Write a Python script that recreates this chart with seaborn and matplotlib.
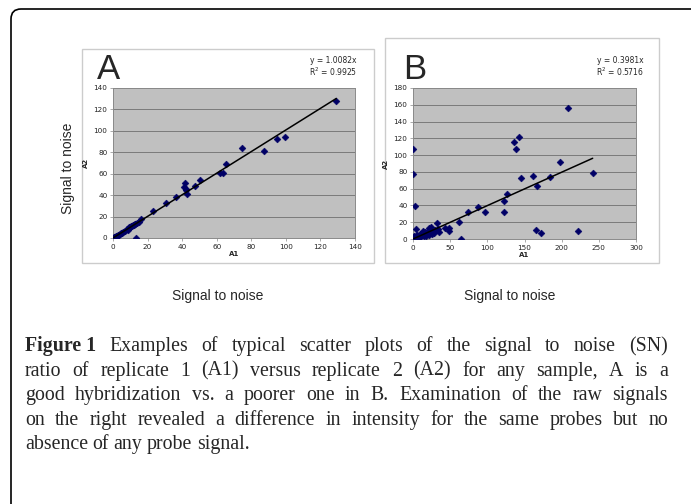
import matplotlib
matplotlib.use("Agg")
import matplotlib.pyplot as plt
from matplotlib.patches import Rectangle, FancyBboxPatch
import numpy as np
import seaborn as sns

sns.set_theme(style="white")
plt.rcParams['font.family'] = ['DejaVu Sans']

# panel A: replicate 1 vs replicate 2 signal to noise (good hybridization)
a_x = [0, 0.5, 1, 1.5, 2, 2.5, 3, 3.5, 4, 4.5, 5, 6, 7, 8, 8.5, 9, 9.5, 10, 10.5, 11,
       11.5, 12, 12.5, 13, 14, 15, 13.5, 16.4, 23.2, 30.5, 36.7, 41.1, 41.9, 42.5, 43,
       42, 47.3, 50.2, 62, 63.7, 65.3, 74.9, 87.3, 94.8, 99.4, 129.2]
a_y = [0, 0.5, 1, 1.2, 2, 2.3, 3, 3.2, 4, 4.6, 5, 6, 7, 8, 7.5, 9, 10, 10, 11, 11.5,
       12, 12.5, 13, 13.5, 14, 15, 0, 18.1, 25.2, 33, 38.3, 47.7, 51.4, 44.5, 41.4,
       45.5, 48.3, 53.9, 60.7, 60.7, 68.8, 84.1, 81.3, 92.2, 94.4, 127.7]
a_slope, a_r2 = 1.0082, 0.9925

# panel B: poorer hybridization
b_x = [0.5, 1, 1.5, 2, 3, 4, 5, 6, 7, 8, 9, 10, 11, 12, 13, 14, 15, 16, 17, 18, 19,
       20, 21, 22, 23, 24, 25, 26, 28, 30, 0.4, 0.4, 3.1, 4.5, 32.3, 33.2, 35.4, 43,
       48.4, 48.4, 61.4, 64.1, 74.4, 87.9, 97.3, 122, 122, 126, 136.3, 138, 143,
       144.8, 161.9, 165.5, 167.3, 172.6, 183.9, 197.3, 209, 221.5, 241.7]
b_y = [1, 3, 0.5, 2, 1, 4, 2, 5, 1, 3, 6, 2, 4, 7, 5, 9, 3, 8, 6, 4, 7, 10, 5, 13,
       8, 14.7, 6, 9, 7, 11, 107.5, 77.3, 39.4, 12, 18.7, 12, 8.8, 12.7, 13.5, 9.6,
       20.7, 0, 31.9, 37.8, 32.3, 32.3, 45, 53.4, 115.5, 106.7, 121.5, 72.9, 74.9,
       11.2, 62.9, 7.6, 74.5, 91.6, 155.7, 9.2, 79.2]
b_slope, b_r2 = 0.3981, 0.5716

W, H = 691, 504
fig = plt.figure(figsize=(W / 100, H / 100), dpi=100)
fig.patch.set_facecolor("white")


def fx(px):
    return px / W


def fy(py):
    return 1 - py / H


# outer rounded frame (cut off at right and bottom)
fig.patches.append(FancyBboxPatch((0.11, -0.3), 7.6, 5.25, boxstyle="round,pad=0,rounding_size=0.1",
                                  transform=fig.dpi_scale_trans, fc="none", ec="black", lw=1.2,
                                  zorder=-5))

# panel frames
for (x0, y0, x1, y1) in [(82, 49, 374, 263), (385, 38, 659, 263)]:
    fig.patches.append(Rectangle((fx(x0), fy(y1)), fx(x1 - x0), (y1 - y0) / H,
                                 transform=fig.transFigure, fc="white", ec="#cccccc", lw=1,
                                 zorder=-4))


def panel(rect, xs, ys, slope, r2, xmax, xstep, ymax, ystep, letter, lx, ly, ex):
    ax = fig.add_axes([fx(rect[0]), fy(rect[3]), fx(rect[2] - rect[0]), (rect[3] - rect[1]) / H])
    ax.set_zorder(2)
    ax.set_facecolor("#c0c0c0")
    ax.set_axisbelow(True)
    ax.yaxis.grid(True, color="#7a7a7a", lw=0.7)
    ax.xaxis.grid(False)
    sns.scatterplot(x=xs, y=ys, ax=ax, marker="D", s=12, color="#000066",
                    edgecolor="#000066", linewidth=0.4, zorder=3)
    tx = np.array([0, max(xs)])
    sns.lineplot(x=tx, y=slope * tx, ax=ax, color="black", lw=1.1, zorder=4)
    ax.set_xlim(0, xmax)
    ax.set_ylim(0, ymax)
    ax.set_xticks(np.arange(0, xmax + 1, xstep))
    ax.set_yticks(np.arange(0, ymax + 1, ystep))
    ax.tick_params(labelsize=5.2, length=2, width=0.5, color="#888888", pad=2,
                   direction="out", labelcolor="#222222")
    ax.tick_params(axis="both", bottom=True, left=True)
    for s in ax.spines.values():
        s.set_color("#8a8a8a")
        s.set_linewidth(0.7)
    ax.set_xlabel("A1", fontsize=5, fontweight="bold", labelpad=1)
    ax.set_ylabel("A2", fontsize=5, fontweight="bold", labelpad=3)
    fig.text(fx(lx), fy(ly), letter, fontsize=25, family="Liberation Sans", ha="left", va="baseline")
    fig.text(fx(ex), fy(63), "y = %.4fx" % slope, fontsize=5.5, ha="right", va="baseline")
    fig.text(fx(ex), fy(76), "R$^2$ = %.4f" % r2, fontsize=5.5, ha="right", va="baseline")
    return ax


panel((113, 88, 355, 238), a_x, a_y, a_slope, a_r2, 140, 20, 140, 20, "A", 97, 79, 357)
panel((413, 88, 636, 239), b_x, b_y, b_slope, b_r2, 300, 50, 180, 20, "B", 403, 79, 644)

lab = dict(fontsize=10, family="Liberation Sans", ha="center", va="center")
fig.text(fx(218), fy(296), "Signal to noise", **lab)
fig.text(fx(510), fy(296), "Signal to noise", **lab)
fig.text(fx(68), fy(168), "Signal to noise", rotation=90, **lab)

# caption, justified
caption = [
    [("Figure 1", "bold"), ("Examples of typical scatter plots of the signal to noise (SN)", "normal")],
    [("ratio of replicate 1 (A1) versus replicate 2 (A2) for any sample, A is a", "normal")],
    [("good hybridization vs. a poorer one in B. Examination of the raw signals", "normal")],
    [("on the right revealed a difference in intensity for the same probes but no", "normal")],
    [("absence of any probe signal.", "normal")],
]
renderer = fig.canvas.get_renderer()
left, right = 25, 668
for i, parts in enumerate(caption):
    base = 351 + i * 24.6
    words = []
    for txt, wt in parts:
        for w in txt.split(" ") if wt == "normal" else [txt]:
            words.append((w, wt))
    texts = [fig.text(0, fy(base), w, fontsize=14.3, family="Liberation Serif",
                      fontweight=wt, va="baseline") for w, wt in words]
    widths = [t.get_window_extent(renderer).width for t in texts]
    last = i == len(caption) - 1
    gap = 4.5 if last else (right - left - sum(widths)) / (len(words) - 1)
    x = left
    for t, w in zip(texts, widths):
        t.set_x(fx(x))
        x += w + gap

fig.savefig("out.png", dpi=100)
